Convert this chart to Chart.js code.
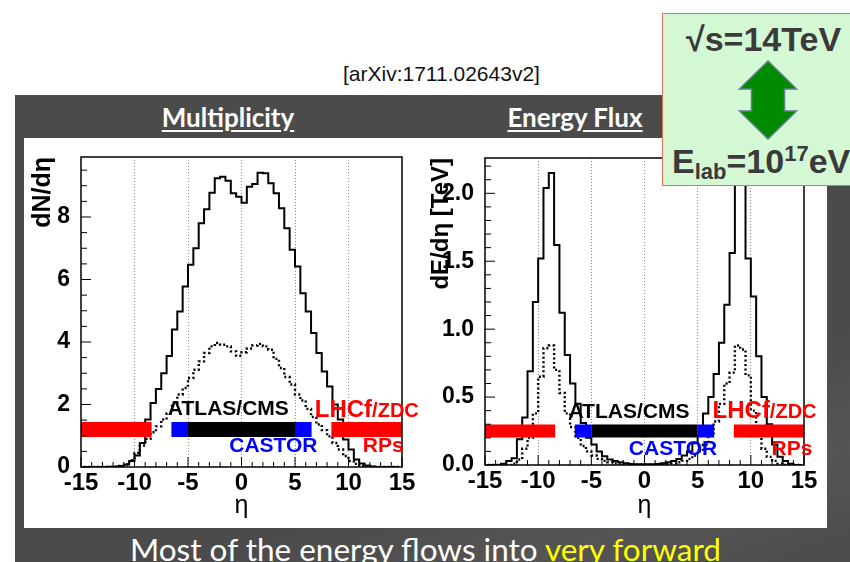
<!DOCTYPE html>
<html>
<head>
<meta charset="utf-8">
<script src="https://cdn.jsdelivr.net/npm/chart.js@4.4.1/dist/chart.umd.min.js"></script>
<style>
  html, body { margin: 0; padding: 0; }
  body { width: 850px; height: 562px; overflow: hidden; position: relative; background: #fff; }
  #band { position: absolute; left: 15px; top: 95px; width: 835px; height: 467px;
          background: linear-gradient(160deg, #4b4b4b 70%, #555 85%, #4b4b4b 100%); }
  #panel { position: absolute; left: 24px; top: 138px; width: 803px; height: 390px; background: #fff; }
  .head { position: absolute; top: 104px; color: #fff; font: 700 26px Lato, sans-serif; line-height: 1;
          text-decoration: underline; text-underline-offset: 3px; white-space: nowrap; transform: translateX(-50%); }
  #ref { position: absolute; left: 343px; top: 63px; font: 21px 'Liberation Sans Narrow', 'Liberation Sans', sans-serif;
         line-height: 1; color: #111; white-space: nowrap; }
  #caption { position: absolute; left: 130px; top: 534px; font: 31.5px Lato, sans-serif; line-height: 1; color: #fff; white-space: nowrap; }
  #caption span { color: #ffff00; }
  canvas { position: absolute; top: 140px; }
  #ebox { position: absolute; left: 662px; top: 13px; width: 200px; height: 171px; background: #d4f8d4;
          border: 1px solid #ee7050; color: #3a3a3a; font-family: 'Liberation Sans', Arial, sans-serif; font-weight: bold; }
  #ebox .l1 { position: absolute; left: 23px; top: 8px; font-size: 34px; line-height: 1; white-space: nowrap; }
  #ebox .l2 { position: absolute; left: 9px; top: 129px; font-size: 34px; line-height: 1; white-space: nowrap; }
  #ebox sub { font-size: 22px; vertical-align: -6px; }
  #ebox sup { font-size: 22px; vertical-align: 12px; }
  #ebox svg { position: absolute; left: 0; top: 0; }
</style>
</head>
<body>
<div id="band"></div>
<div id="panel"></div>
<div id="ref">[arXiv:1711.02643v2]</div>
<div class="head" style="left:228px">Multiplicity</div>
<div class="head" style="left:575px">Energy Flux</div>
<canvas id="mult" width="410" height="385" style="left:24px"></canvas>
<canvas id="eflux" width="410" height="385" style="left:420px"></canvas>
<div id="ebox">
  <div class="l1">√s=14TeV</div>
  <svg width="200" height="172">
    <polygon points="105,47 133.5,75 121.5,75 121.5,97 133.5,97 105,125 76.5,97 88.5,97 88.5,75 76.5,75"
             fill="#008a00" stroke="#5b7f8c" stroke-width="1.5"/>
  </svg>
  <div class="l2">E<sub>lab</sub>=10<sup>17</sup>eV</div>
</div>
<div id="caption">Most of the energy flows into <span>very forward</span></div>

<script>
// bin centres in pseudorapidity (bin width 0.5)
const etaBins = [
  -14.75, -14.25, -13.75, -13.25, -12.75, -12.25, -11.75, -11.25, -10.75, -10.25,
  -9.75, -9.25, -8.75, -8.25, -7.75, -7.25, -6.75, -6.25, -5.75, -5.25,
  -4.75, -4.25, -3.75, -3.25, -2.75, -2.25, -1.75, -1.25, -0.75, -0.25,
  0.25, 0.75, 1.25, 1.75, 2.25, 2.75, 3.25, 3.75, 4.25, 4.75,
  5.25, 5.75, 6.25, 6.75, 7.25, 7.75, 8.25, 8.75, 9.25, 9.75,
  10.25, 10.75, 11.25, 11.75, 12.25, 12.75, 13.25, 13.75, 14.25, 14.75
];

// dN/deta : all particles (solid) and the dotted component
const multAll = [
  0, 0, 0, 0, 0, 0.01, 0.01, 0.03, 0.08, 0.19,
  0.37, 0.77, 1.52, 2.05, 2.5, 3.0, 3.55, 4.4, 4.98, 5.78,
  6.47, 7.0, 7.8, 8.25, 8.78, 9.24, 9.29, 9.16, 8.76, 8.65,
  8.46, 8.97, 9.06, 9.42, 9.4, 9.08, 8.76, 8.28, 7.64, 6.95,
  6.42, 5.56, 4.98, 4.29, 3.65, 3.06, 2.58, 2.0, 1.52, 0.88,
  0.56, 0.24, 0.11, 0.05, 0.02, 0, 0, 0, 0, 0
];
const multDotted = [
  0, 0, 0, 0, 0, 0, 0.01, 0.03, 0.08, 0.22,
  0.45, 0.69, 0.9, 1.11, 1.3, 1.52, 1.71, 2.05, 2.32, 2.53,
  2.85, 3.11, 3.38, 3.65, 3.86, 3.97, 3.91, 3.86, 3.7, 3.56,
  3.67, 3.79, 3.89, 3.94, 3.86, 3.75, 3.46, 3.17, 2.88, 2.64,
  2.32, 2.13, 1.86, 1.6, 1.36, 1.18, 0.98, 0.77, 0.56, 0.35,
  0.19, 0.1, 0.04, 0.01, 0, 0, 0, 0, 0, 0
];

// dE/deta [TeV]
const eflowAll = [
  0, 0, 0, 0.01, 0.03, 0.05, 0.19, 0.35, 0.69, 1.2,
  1.52, 2.04, 2.15, 1.62, 1.12, 0.81, 0.6, 0.45, 0.31, 0.2,
  0.15, 0.1, 0.065, 0.04, 0.03, 0.02, 0.012, 0.008, 0.006, 0.005,
  0.005, 0.006, 0.008, 0.012, 0.02, 0.03, 0.045, 0.07, 0.1, 0.16,
  0.22, 0.38, 0.5, 0.67, 0.9, 1.18, 1.56, 2.1, 2.15, 1.52,
  1.24, 0.8, 0.5, 0.3, 0.15, 0.06, 0.03, 0.01, 0, 0
];
const eflowDotted = [
  0, 0, 0, 0, 0, 0.01, 0.04, 0.12, 0.2, 0.38,
  0.65, 0.86, 0.88, 0.7, 0.53, 0.38, 0.28, 0.2, 0.14, 0.1,
  0.07, 0.045, 0.03, 0.02, 0.012, 0.008, 0.005, 0.003, 0.002, 0.002,
  0.002, 0.002, 0.003, 0.005, 0.008, 0.012, 0.02, 0.03, 0.045, 0.07,
  0.1, 0.15, 0.22, 0.32, 0.45, 0.6, 0.68, 0.88, 0.85, 0.66,
  0.4, 0.22, 0.12, 0.06, 0.03, 0.01, 0, 0, 0, 0
];

// axis ticks
const etaTicks = [-15, -10, -5, 0, 5, 10, 15];
const multTicks = [0, 2, 4, 6, 8];
const eflowTicks = [0, 0.5, 1.0, 1.5, 2.0];

// detector acceptance in eta
const fwdCover = [[-15, -8.4], [8.4, 15]];     // LHCf/ZDC, RPs
const castorCover = [[-6.55, -5], [5, 6.55]];  // CASTOR
const centralCover = [[-5, 5]];                // ATLAS/CMS

Chart.defaults.font.family = "'Liberation Sans', Arial, sans-serif";
Chart.defaults.color = '#000';

function histo(vals, dash, width) {
  return {
    data: etaBins.map((e, i) => ({ x: e, y: vals[i] })),
    stepped: 'middle',
    borderColor: '#000',
    borderWidth: width,
    borderDash: dash,
    pointRadius: 0,
    fill: false,
    order: 2
  };
}

function coverage(spans, level, color, width) {
  const pts = [];
  spans.forEach((s, i) => {
    if (i > 0) pts.push({ x: (spans[i - 1][1] + s[0]) / 2, y: null });
    pts.push({ x: s[0], y: level }, { x: s[1], y: level });
  });
  return { data: pts, borderColor: color, borderWidth: width, borderCapStyle: 'butt',
           pointRadius: 0, spanGaps: false, fill: false, order: 0 };
}

// ROOT style frame, inner tick marks and detector names
const rootFrame = {
  id: 'rootFrame',
  afterDatasetsDraw(chart, args, opts) {
    const { ctx, chartArea: a, scales: { x, y } } = chart;
    ctx.save();
    ctx.strokeStyle = '#000';
    ctx.lineWidth = 1;
    ctx.beginPath();
    for (let v = x.min; v <= x.max; v += 1) {
      const px = x.getPixelForValue(v);
      const len = v % 5 === 0 ? 10 : 5;
      ctx.moveTo(px, a.bottom);
      ctx.lineTo(px, a.bottom - len);
    }
    const n = Math.floor(y.max / opts.minorY + 1e-6);
    for (let i = 0; i <= n; i++) {
      const v = i * opts.minorY;
      const r = v / opts.majorY;
      const major = Math.abs(r - Math.round(r)) < 1e-6;
      const py = y.getPixelForValue(v);
      ctx.moveTo(a.left, py);
      ctx.lineTo(a.left + (major ? 10 : 6), py);
    }
    ctx.stroke();
    ctx.lineWidth = 1.5;
    ctx.strokeRect(a.left, a.top, a.width, a.height);

    ctx.textBaseline = 'alphabetic';
    opts.labels.forEach(l => {
      let px = x.getPixelForValue(l.x);
      const py = y.getPixelForValue(l.y);
      ctx.fillStyle = l.color;
      ctx.textAlign = l.align || 'left';
      l.parts.forEach(([txt, size]) => {
        ctx.font = 'bold ' + size + "px 'Liberation Sans', Arial, sans-serif";
        ctx.fillText(txt, px, py);
        px += ctx.measureText(txt).width;
      });
    });
    ctx.restore();
  }
};

function panel(id, p) {
  return new Chart(document.getElementById(id), {
    type: 'line',
    data: {
      datasets: [
        coverage(fwdCover, p.barLevel, '#ff0000', p.barWidth),
        coverage(castorCover, p.barLevel, '#0000ff', p.barWidth),
        coverage(centralCover, p.barLevel, '#000000', p.barWidth),
        histo(p.solid, [], 2),
        histo(p.dotted, [2, 2.5], 2.4)
      ]
    },
    options: {
      responsive: false,
      animation: false,
      events: [],
      layout: { padding: { top: p.padTop, right: p.padRight, left: 0, bottom: 0 } },
      plugins: {
        legend: { display: false },
        tooltip: { enabled: false },
        rootFrame: { minorY: p.minorY, majorY: p.majorY, labels: p.labels }
      },
      scales: {
        x: {
          type: 'linear', min: -15, max: 15,
          afterBuildTicks: s => { s.ticks = etaTicks.map(v => ({ value: v })); },
          afterFit: s => { s.height = p.xAxisH; },
          ticks: { font: { size: 24, weight: 'bold' }, padding: 2, maxRotation: 0, autoSkip: false },
          grid: { drawTicks: false, lineWidth: 1,
                  color: c => (c.tick && Math.abs(c.tick.value) === 15) ? 'rgba(0,0,0,0)' : '#8a8a8a' },
          border: { display: false, dash: [1, 2] },
          title: { display: true, text: 'η', font: { size: 25 }, padding: { top: 0, bottom: 4 } }
        },
        y: {
          type: 'linear', min: 0, max: p.yMax,
          afterBuildTicks: s => { s.ticks = p.yTicks.map(v => ({ value: v })); },
          afterFit: s => { s.width = p.yAxisW; },
          ticks: { font: { size: 23, weight: 'bold' }, padding: 3, callback: p.fmt },
          grid: { display: false },
          border: { display: false },
          title: { display: true, text: p.yTitle, align: 'end', font: { size: p.yTitleSize, weight: 'bold' },
                   padding: { top: p.yTitlePad, bottom: 0 } }
        }
      }
    },
    plugins: [rootFrame]
  });
}

panel('mult', {
  solid: multAll, dotted: multDotted,
  yMax: 9.92, yTicks: multTicks, fmt: v => String(v), yTitle: 'dN/dη', yTitleSize: 25,
  minorY: 0.5, majorY: 2,
  padTop: 17, padRight: 32, xAxisH: 58, yAxisW: 57, yTitlePad: 4,
  barLevel: 1.2, barWidth: 15,
  labels: [
    { parts: [['ATLAS/CMS', 21]], x: -1.23, y: 1.66, color: '#000', align: 'center' },
    { parts: [['CASTOR', 21]], x: 2.98, y: 0.49, color: '#0000ff', align: 'center' },
    { parts: [['LHCf', 24], ['/ZDC', 20]], x: 6.85, y: 1.61, color: '#ff0000' },
    { parts: [['RPs', 21]], x: 13.25, y: 0.49, color: '#ff0000', align: 'center' }
  ]
});

panel('eflux', {
  solid: eflowAll, dotted: eflowDotted,
  yMax: 2.26, yTicks: eflowTicks, fmt: v => v.toFixed(1), yTitle: 'dE/dη [TeV]', yTitleSize: 24,
  minorY: 0.1, majorY: 0.5,
  padTop: 18, padRight: 26, xAxisH: 60, yAxisW: 65, yTitlePad: 7,
  barLevel: 0.25, barWidth: 13,
  labels: [
    { parts: [['ATLAS/CMS', 21]], x: -1.46, y: 0.347, color: '#000', align: 'center' },
    { parts: [['CASTOR', 21]], x: 2.68, y: 0.07, color: '#0000ff', align: 'center' },
    { parts: [['LHCf', 24], ['/ZDC', 20]], x: 6.4, y: 0.347, color: '#ff0000' },
    { parts: [['RPs', 21]], x: 13.87, y: 0.07, color: '#ff0000', align: 'center' }
  ]
});
</script>
</body>
</html>
